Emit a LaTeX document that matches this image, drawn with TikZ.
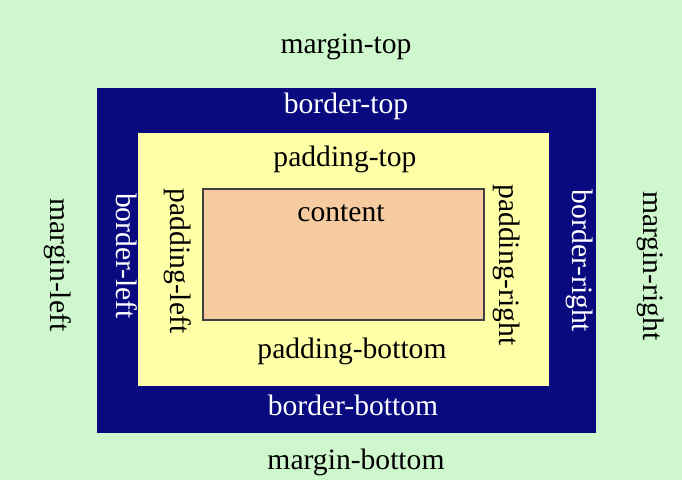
\documentclass[tikz,border=0pt]{standalone}
\usepackage{fontspec}
\setmainfont{Liberation Serif}
\usepackage{tikz}

\definecolor{marginGreen}{RGB}{206,247,206}
\definecolor{borderNavy}{RGB}{10,10,128}
\definecolor{paddingYellow}{RGB}{255,255,168}
\definecolor{contentPeach}{RGB}{247,203,160}

\begin{document}
\begin{tikzpicture}[x=0.5pt,y=-0.5pt,
		lbl/.style={font=\fontsize{14.8}{18}\selectfont,inner sep=0pt},
		dark/.style={lbl,text=black},
		light/.style={lbl,text=white},
		vert/.style={rotate=-90}]
		\useasboundingbox (0,0) rectangle (682,480);
		\fill[marginGreen] (0,0) rectangle (682,480);
		
		% the three boxes
		\fill[borderNavy] (97,88) rectangle (596,433);
		\fill[paddingYellow] (138,133) rectangle (549,386);
		\filldraw[fill=contentPeach,draw=black!75,line width=0.6pt] (203,189) rectangle (484,320);
		
		% top and bottom labels
		\node[dark] (mtop) at (346,47){margin-top};
		\node[light] (btop) at (346,106){border-top};
		\node[dark] (ptop) at (345,159){padding-top};
		\node[dark] (cont) at (341,213){content};
		\node[dark] (pbot) at (352,351){padding-bottom};
		\node[light] (bbot) at (353,405){border-bottom};
		\node[dark] (mbot) at (356,462){margin-bottom};
		
		% side labels
		\node[dark,vert] (mleft) at (58,265){margin-left};
		\node[light,vert] (bleft) at (127,256){border-left};
		\node[dark,vert] (pleft) at (178,261){padding-left};
		\node[dark,vert] (pright) at (507,265){padding-right};
		\node[light,vert] (bright) at (580,261){border-right};
		\node[dark,vert] (mright) at (651,266){margin-right};
	\end{tikzpicture}
\end{document}
